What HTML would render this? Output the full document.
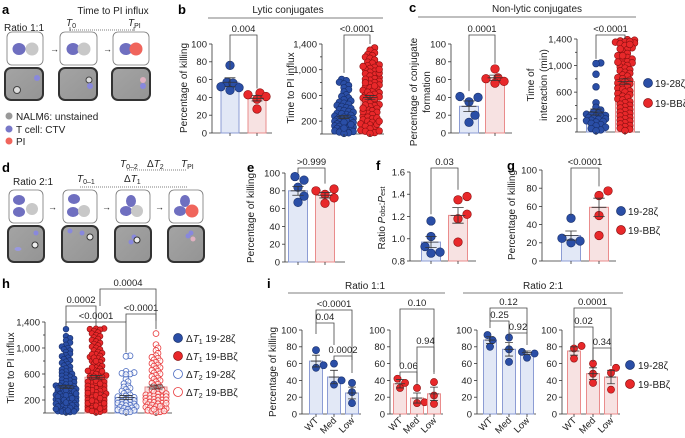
<!DOCTYPE html>
<html><head><meta charset="utf-8"><style>
html,body{margin:0;padding:0;background:#fff;}
svg{display:block;font-family:"Liberation Sans",sans-serif;}
text{fill:#222;}
.lt{font-weight:bold;font-size:13px;fill:#000;}
.ax{font-size:10px;}
.tk{font-size:9.5px;}
</style></head><body>
<svg id="fig" width="685" height="438" viewBox="0 0 685 438" xmlns="http://www.w3.org/2000/svg">
<defs>
<linearGradient id="mic" x1="0" y1="0" x2="1" y2="1"><stop offset="0" stop-color="#a4a4a4"/><stop offset="1" stop-color="#949494"/></linearGradient>
</defs>
<!-- panel a -->
<g>
<text class="lt" x="2" y="14">a</text>
<text class="ax" x="113" y="14" text-anchor="middle" font-size="10.5">Time to PI influx</text>
<text class="ax" x="4" y="31">Ratio 1:1</text>
<text x="66" y="26" font-size="10" font-style="italic">T<tspan font-size="7" dy="2" font-style="normal">0</tspan></text>
<text x="128" y="26" font-size="10" font-style="italic">T<tspan font-size="7" dy="2" font-style="normal">PI</tspan></text>
<line x1="70" y1="30" x2="134" y2="30" stroke="#555" stroke-width="0.8" stroke-dasharray="1,1"/>
<line x1="70" y1="27" x2="70" y2="31" stroke="#555" stroke-width="0.8"/>
<line x1="134" y1="27" x2="134" y2="31" stroke="#555" stroke-width="0.8"/>
<rect x="7" y="32" width="36" height="33" rx="5" fill="#fff" stroke="#777" stroke-width="0.8"/>
<ellipse cx="19" cy="49" rx="6.5" ry="6" fill="#6f6fc0"/><circle cx="32" cy="49" r="6.5" fill="#c8c8c8"/>
<text x="50" y="52" font-size="9">→</text>
<rect x="60" y="32" width="37" height="33" rx="5" fill="#fff" stroke="#777" stroke-width="0.8"/>
<ellipse cx="73" cy="49" rx="6.5" ry="6" fill="#6f6fc0"/><circle cx="84" cy="49" r="6.5" fill="#c8c8c8"/>
<text x="103" y="52" font-size="9">→</text>
<rect x="113" y="32" width="36" height="33" rx="5" fill="#fff" stroke="#777" stroke-width="0.8"/>
<ellipse cx="126" cy="49" rx="6.5" ry="6" fill="#6f6fc0"/><circle cx="136" cy="49" r="6.5" fill="#f0655c"/>
<rect x="5" y="68" width="38" height="32" rx="6" fill="url(#mic)" stroke="#333" stroke-width="2"/>
<circle cx="37" cy="78" r="3" fill="#8888dd"/><circle cx="17" cy="90" r="3.5" fill="#ddd" stroke="#444"/>
<rect x="59" y="68" width="38" height="32" rx="6" fill="url(#mic)" stroke="#333" stroke-width="2"/>
<circle cx="89" cy="80" r="3" fill="#ddd" stroke="#444"/><circle cx="90" cy="86" r="3" fill="#8888dd"/>
<rect x="112" y="68" width="38" height="32" rx="6" fill="url(#mic)" stroke="#333" stroke-width="2"/>
<circle cx="143" cy="80" r="3" fill="#e0b0c0"/><circle cx="143" cy="86" r="3" fill="#8888dd"/>
<circle cx="9" cy="116" r="3.5" fill="#999"/><text class="ax" x="16" y="120">NALM6: unstained</text>
<circle cx="9" cy="129" r="3.5" fill="#7878c8"/><text class="ax" x="16" y="133">T cell: CTV</text>
<circle cx="9" cy="141" r="3.5" fill="#f0655c"/><text class="ax" x="16" y="145">PI</text>
</g>
<!-- panel d -->
<g>
<text class="lt" x="2" y="172">d</text>
<text class="ax" x="13" y="185">Ratio 2:1</text>
<text x="120" y="167" font-size="10" font-style="italic">T<tspan font-size="7" dy="2" font-style="normal">0–2</tspan></text>
<text x="147" y="167" font-size="10">Δ<tspan font-style="italic">T</tspan><tspan font-size="7" dy="2">2</tspan></text>
<text x="181" y="167" font-size="10" font-style="italic">T<tspan font-size="7" dy="2" font-style="normal">PI</tspan></text>
<line x1="127" y1="170" x2="187" y2="170" stroke="#555" stroke-width="0.8" stroke-dasharray="1,1"/>
<text x="77" y="182" font-size="10" font-style="italic">T<tspan font-size="7" dy="2" font-style="normal">0–1</tspan></text>
<text x="124" y="182" font-size="10">Δ<tspan font-style="italic">T</tspan><tspan font-size="7" dy="2">1</tspan></text>
<line x1="80" y1="187" x2="187" y2="187" stroke="#555" stroke-width="0.8" stroke-dasharray="1,1"/>
<rect x="9" y="190" width="34" height="33" rx="5" fill="#fff" stroke="#777" stroke-width="0.8"/>
<ellipse cx="19" cy="200" rx="6" ry="5" fill="#6f6fc0"/><ellipse cx="19" cy="212" rx="6" ry="5" fill="#6f6fc0"/><circle cx="32" cy="209" r="6" fill="#c8c8c8"/>
<text x="48" y="210" font-size="9">→</text>
<rect x="63" y="190" width="34" height="33" rx="5" fill="#fff" stroke="#777" stroke-width="0.8"/>
<ellipse cx="74" cy="199" rx="6" ry="5" fill="#6f6fc0"/><ellipse cx="73" cy="212" rx="6" ry="5" fill="#6f6fc0"/><circle cx="84" cy="211" r="6" fill="#c8c8c8"/>
<text x="102" y="210" font-size="9">→</text>
<rect x="116" y="190" width="34" height="33" rx="5" fill="#fff" stroke="#777" stroke-width="0.8"/>
<ellipse cx="131" cy="201" rx="5" ry="6" fill="#6f6fc0"/><ellipse cx="126" cy="211" rx="6" ry="5" fill="#6f6fc0"/><circle cx="137" cy="211" r="6" fill="#c8c8c8"/>
<text x="155" y="210" font-size="9">→</text>
<rect x="169" y="190" width="34" height="33" rx="5" fill="#fff" stroke="#777" stroke-width="0.8"/>
<ellipse cx="185" cy="201" rx="5" ry="6" fill="#6f6fc0"/><ellipse cx="180" cy="211" rx="6" ry="5" fill="#6f6fc0"/><circle cx="192" cy="211" r="6.5" fill="#f0655c"/>
<rect x="8" y="226" width="36" height="36" rx="6" fill="url(#mic)" stroke="#333" stroke-width="2"/>
<circle cx="36" cy="233" r="2.5" fill="#8888dd"/><circle cx="35" cy="245" r="3" fill="#eee" stroke="#333"/><ellipse cx="18" cy="249" rx="3.5" ry="2" fill="#9999e0"/>
<rect x="62" y="226" width="36" height="36" rx="6" fill="url(#mic)" stroke="#333" stroke-width="2"/>
<circle cx="70" cy="231" r="2.5" fill="#8888dd"/><circle cx="82" cy="233" r="2.5" fill="#8888dd"/><circle cx="90" cy="237" r="3" fill="#eee" stroke="#333"/>
<rect x="115" y="226" width="36" height="36" rx="6" fill="url(#mic)" stroke="#333" stroke-width="2"/>
<circle cx="134" cy="237" r="2.5" fill="#8888dd"/><circle cx="137" cy="240" r="3" fill="#eee" stroke="#333"/><circle cx="131" cy="242" r="2.5" fill="#8888dd"/>
<rect x="168" y="226" width="36" height="36" rx="6" fill="url(#mic)" stroke="#333" stroke-width="2"/>
<circle cx="191" cy="233" r="2.5" fill="#8888dd"/><circle cx="193" cy="239" r="2.5" fill="#e0b0c0"/><circle cx="188" cy="236" r="2.5" fill="#8888dd"/>
</g>
<!-- headers -->
<text class="lt" x="178" y="14">b</text>
<text class="ax" x="288" y="13" text-anchor="middle" font-size="10.5">Lytic conjugates</text>
<line x1="208" y1="18" x2="383" y2="18" stroke="#555" stroke-width="0.8"/>
<text class="lt" x="409" y="12">c</text>
<text class="ax" x="537" y="12" text-anchor="middle" font-size="10.5">Non-lytic conjugates</text>
<line x1="418" y1="17" x2="636" y2="17" stroke="#555" stroke-width="0.8"/>
<text class="lt" x="247" y="172">e</text>
<text class="lt" x="376" y="170">f</text>
<text class="lt" x="507" y="170">g</text>
<text class="lt" x="2" y="288">h</text>
<text class="lt" x="267" y="288">i</text>
<text class="ax" x="365" y="289" text-anchor="middle">Ratio 1:1</text>
<line x1="288" y1="293" x2="445" y2="293" stroke="#555" stroke-width="0.8"/>
<text class="ax" x="543" y="289" text-anchor="middle">Ratio 2:1</text>
<line x1="463" y1="293" x2="623" y2="293" stroke="#555" stroke-width="0.8"/>
<!-- y titles -->
<text class="ax" transform="translate(187,88) rotate(-90)" text-anchor="middle">Percentage of killing</text>
<text class="ax" transform="translate(294,88) rotate(-90)" text-anchor="middle">Time to PI influx</text>
<text class="ax" transform="translate(417,92) rotate(-90)" text-anchor="middle">Percentage of conjugate</text>
<text class="ax" transform="translate(430,92) rotate(-90)" text-anchor="middle">formation</text>
<text class="ax" transform="translate(534,85) rotate(-90)" text-anchor="middle">Time of</text>
<text class="ax" transform="translate(547,85) rotate(-90)" text-anchor="middle">interaction (min)</text>
<text class="ax" transform="translate(254,218) rotate(-90)" text-anchor="middle">Percentage of killing</text>
<text class="ax" transform="translate(385,218) rotate(-90)" text-anchor="middle">Ratio <tspan font-style="italic">P</tspan><tspan font-size="7">obs</tspan>:<tspan font-style="italic">P</tspan><tspan font-size="7">est</tspan></text>
<text class="ax" transform="translate(515,215) rotate(-90)" text-anchor="middle">Percentage of killing</text>
<text class="ax" transform="translate(14,368) rotate(-90)" text-anchor="middle">Time to PI influx</text>
<text class="ax" transform="translate(276,372) rotate(-90)" text-anchor="middle">Percentage of killing</text>
<!-- legends -->
<g>
<circle cx="648" cy="83" r="4.5" fill="#2a4ea6" stroke="#182f6a" stroke-width="0.7"/><text class="ax" x="655" y="87">19-28ζ</text>
<circle cx="648" cy="103" r="4.5" fill="#e8282a" stroke="#8a1010" stroke-width="0.7"/><text class="ax" x="655" y="107">19-BBζ</text>
</g>
<g>
<circle cx="621" cy="211" r="4.5" fill="#2a4ea6" stroke="#182f6a" stroke-width="0.7"/><text class="ax" x="628" y="215">19-28ζ</text>
<circle cx="621" cy="230" r="4.5" fill="#e8282a" stroke="#8a1010" stroke-width="0.7"/><text class="ax" x="628" y="234">19-BBζ</text>
</g>
<g>
<circle cx="178" cy="338" r="4.5" fill="#2a4ea6" stroke="#182f6a" stroke-width="0.7"/><text class="ax" x="186" y="342">Δ<tspan font-style="italic">T</tspan><tspan font-size="7" dy="2">1</tspan><tspan dy="-2"> 19-28ζ</tspan></text>
<circle cx="178" cy="356" r="4.5" fill="#e8282a" stroke="#8a1010" stroke-width="0.7"/><text class="ax" x="186" y="360">Δ<tspan font-style="italic">T</tspan><tspan font-size="7" dy="2">1</tspan><tspan dy="-2"> 19-BBζ</tspan></text>
<circle cx="178" cy="374" r="4.5" fill="none" stroke="#4a6ac0" stroke-width="0.8"/><text class="ax" x="186" y="378">Δ<tspan font-style="italic">T</tspan><tspan font-size="7" dy="2">2</tspan><tspan dy="-2"> 19-28ζ</tspan></text>
<circle cx="178" cy="392" r="4.5" fill="none" stroke="#e8383a" stroke-width="0.8"/><text class="ax" x="186" y="396">Δ<tspan font-style="italic">T</tspan><tspan font-size="7" dy="2">2</tspan><tspan dy="-2"> 19-BBζ</tspan></text>
</g>
<g>
<circle cx="630" cy="365" r="4.5" fill="#2a4ea6" stroke="#182f6a" stroke-width="0.7"/><text class="ax" x="638" y="369">19-28ζ</text>
<circle cx="630" cy="384" r="4.5" fill="#e8282a" stroke="#8a1010" stroke-width="0.7"/><text class="ax" x="638" y="388">19-BBζ</text>
</g>
</svg>
<script>
// ---------- data ----------
const pctTicks=[0,20,40,60,80,100];
const pctTickLabels=['0','20','40','60','80','100'];
const timeTicks=[0,200,400,600,800,1000,1200,1400];
const timeTickLabels=['','200','','600','','1,000','','1,400'];
const ratioTicks=[0.8,1.0,1.2,1.4,1.6];
const ratioTickLabels=['0.8','1.0','1.2','1.4','1.6'];
const iCats=['WT','Med','Low'];

const bKillMean=[57,39];
const bKillSem=[5,3];
const bKillBlue=[76,57,56,52,51,48];
const bKillRed=[45,43,41,38,27];

const bTimeMean=[265,570];
const bTimeSem=[25,30];
const bTimeBlue=[850,830,805,780,755,720,690,655,610,585,560,535,515,495,480,462,445,430,412,398,380,366,352,338,322,305,292,278,263,250,242,228,221,208,198,186,177,168,158,149,138,127,118,108,99,88,79,68,58,48,38,29,18,8,315,262,212,182,148,92];
const bTimeRed=[1340,1305,1262,1238,1221,1196,1178,1152,1118,1102,1076,1063,1038,1021,1002,978,962,937,918,903,877,862,838,821,802,776,763,741,718,702,679,663,642,618,603,578,562,538,521,497,482,458,442,423,398,381,362,338,322,301,278,262,238,221,198,182,158,141,118,102,81,58,42,21,9,1052,948,853,748,652,551,452,348,251,152,48,1005,798,602,402,198];

const cConjMean=[30,62];
const cConjSem=[6,3];
const cConjBlue=[40,41,35,20,12];
const cConjRed=[72,62,58,56,61];

const cTimeMean=[300,760];
const cTimeSem=[45,40];
const cTimeBlue=[1040,1030,870,680,440,372,330,302,281,268,259,248,239,231,219,208,198,191,178,169,158,149,131,112,92,71,52,31,18];
const cTimeRed=[1390,1382,1371,1358,1352,1339,1328,1302,1268,1241,1208,1183,1149,1122,1098,1082,1058,1041,1019,1002,978,961,938,921,899,882,858,841,818,802,779,761,738,722,698,681,658,642,618,601,578,562,538,521,498,482,458,441,418,402,378,361,338,322,298,281,258,241,218,201,178,162,138,121,98,82,58,41,22,1362,1318,1251,1148,1052];

const eKillMean=[80,75];
const eKillSem=[5,3];
const eKillBlue=[96,92,84,74,67];
const eKillRed=[82,80,76,72,66];

const fRatioMean=[0.97,1.21];
const fRatioSem=[0.05,0.07];
const fRatioBlue=[1.16,1.02,0.93,0.88,0.87];
const fRatioRed=[1.38,1.35,1.22,1.18,0.97];

const gKillMean=[28,59];
const gKillSem=[5,10];
const gKillBlue=[47,25,22,20];
const gKillRed=[77,72,50,28];

const hMean=[400,550,240,400];
const hSem=[25,28,30,30];
const hT1Blue=[1290,1182,1151,1118,1082,1049,1021,998,979,962,938,911,889,872,851,828,812,789,771,752,729,712,688,671,652,638,622,601,588,572,559,541,528,512,498,489,472,461,449,438,421,409,398,391,379,368,355,341,329,321,309,298,291,279,268,259,251,238,229,221,208,199,188,181,169,158,151,139,128,122,109,98,91,79,68,61,49,41,29,21,15,9,422,381,352,331,298,271,252,228,201,179,161,142,119,101,79,62,38,24];
const hT1Red=[1300,1296,1291,1282,1261,1238,1221,1198,1181,1162,1139,1122,1101,1078,1062,1039,1021,1002,979,962,938,921,902,878,861,842,819,801,782,758,741,722,698,681,662,639,621,602,578,561,542,519,502,478,461,442,418,401,382,358,341,322,298,281,262,238,221,202,178,161,142,118,102,78,61,42,19,9,902,851,798,702,649,601,552,498,451,402,352,298,252,198,152,101,52,31,641,559,482,418,362,309,271,229,191,149,112,69];
const hT2Blue=[880,872,640,622,600,611,590,521,482,452,418,401,382,361,338,322,301,279,262,251,241,229,222,208,198,191,178,169,158,151,138,129,118,111,99,88,79,71,58,49,41,29,18,12];
const hT2Red=[1222,1052,1001,962,918,882,858,842,818,801,779,762,738,722,698,681,658,642,618,601,578,562,538,521,499,481,458,442,419,401,378,362,338,321,298,291,279,268,261,249,241,229,221,209,198,191,179,168,162,149,141,128,121,109,98,91,78,69,61,49,41,28,19,9,352,298,252,201,149,102,58,31];

const i1Mean=[63,44,25];const i1Sem=[7,8,7];
const i1Dots=[[76,55,58],[60,35,40],[37,26,13]];
const i2Mean=[36,19,24];const i2Sem=[5,6,8];
const i2Dots=[[42,37,31],[31,13,14],[38,22,12]];
const i3Mean=[88,77,73];const i3Sem=[4,8,2];
const i3Dots=[[94,88,80],[91,77,62],[74,72,67]];
const i4Mean=[75,48,44];const i4Sem=[5,7,8];
const i4Dots=[[81,78,66],[60,48,37],[55,49,29]];

// ---------- drawing ----------
const NS='http://www.w3.org/2000/svg';
const fig=document.getElementById('fig');
const BLUE={fill:'#2a4ea6',stroke:'#182f6a',bar:'#e2e8f6',barStroke:'#8c9cd4',open:'#4a6ac0'};
const RED={fill:'#e8282a',stroke:'#8a1010',bar:'#f7e2e2',barStroke:'#ea8c8c',open:'#e8383a'};
function mk(tag,parent){const e=document.createElementNS(NS,tag);(parent||fig).appendChild(e);return e;}
function set(e,o){for(const k in o)e.setAttribute(k,o[k]);return e;}

function makeAxis(g,ax,yb,yt,mn,mx,ticks,labels,xEnd){
  const y=v=>yb-(v-mn)/(mx-mn)*(yb-yt);
  const l=set(mk('line',g),{x1:ax,y1:yt,x2:ax,y2:yb,stroke:'#333','stroke-width':0.8});
  
  
  const b=set(mk('line',g),{x1:ax,y1:yb,x2:xEnd,y2:yb,stroke:'#333','stroke-width':0.8});
  
  
  ticks.forEach((t,i)=>{
    const lab=labels[i];
    const tl=set(mk('line',g),{x1:ax-(lab?3:2),y1:y(t),x2:ax,y2:y(t),stroke:'#333','stroke-width':0.8});
    
    
    if(lab){const tx=set(mk('text',g),{x:ax-5,y:y(t)+3.4,'text-anchor':'end',class:'tk'});tx.textContent=lab;
      
      }
  });
  return y;
}
function swarm(vals,y,cx,r,half){
  const placed=[];const out=[];
  const order=vals.map((v,i)=>i).sort((a,b)=>vals[a]-vals[b]);
  const minD=vals.length<10?r*1.9:r*1.05;
  order.forEach(i=>{
    const py=y(vals[i]);let best=null,bestScore=1e9;
    const step=r*0.7;
    for(let k=0;k<60;k++){
      const off=(k%2?1:-1)*Math.ceil(k/2)*step;
      if(Math.abs(off)>half)continue;
      const x=cx+off;
      let md=1e9;
      placed.forEach(p=>{const d=Math.hypot(p[0]-x,p[1]-py);if(d<md)md=d;});
      if(md>=minD){best=x;break;}
      const score=-md;
      if(score<bestScore){bestScore=score;best=x;}
    }
    placed.push([best,py]);out[i]=[best,py];
  });
  return out;
}
function drawGroup(g,y,cx,bw,mean,sem,vals,col,r,open,base){
  const bar=set(mk('rect',g),{x:cx-bw/2,y:y(mean),width:bw,height:base-y(mean),fill:col.bar,stroke:col.barStroke,'stroke-width':1});
  
  
  const pts=swarm(vals,y,cx,r,bw/2+r*0.3);
  pts.forEach(p=>{
    const c=set(mk('circle',g),{cx:p[0],cy:p[1],r:r,fill:open?'#fff':col.fill,'fill-opacity':open?0.6:1,stroke:open?col.open:col.stroke,'stroke-width':open?0.8:0.6});
    
    
  });
  const w=bw*0.3;
  const e1=set(mk('path',g),{d:`M${cx},${y(mean-sem)}V${y(mean+sem)}M${cx-w},${y(mean+sem)}H${cx+w}M${cx-w},${y(mean-sem)}H${cx+w}M${cx-w*1.3},${y(mean)}H${cx+w*1.3}`,stroke:'#333','stroke-width':0.8,fill:'none'});
  
  
}
function xTick(g,cx,yb){
  const t=set(mk('line',g),{x1:cx,y1:yb,x2:cx,y2:yb+3,stroke:'#333','stroke-width':0.8});
  
  
}
function bracket(g,x1,x2,yTop,yL,yR,label){
  const p=set(mk('path',g),{d:`M${x1},${yL}V${yTop}H${x2}V${yR}`,stroke:'#444','stroke-width':0.8,fill:'none'});
  
  
  const t=set(mk('text',g),{x:(x1+x2)/2,y:yTop-3,'text-anchor':'middle',class:'tk'});
  t.textContent=label;
  
  
}
function panel(name,ax,yb,yt,mn,mx,ticks,labels,xEnd,centers,bw,means,sems,series,cols,r,opens){
  const g=mk('g');
  
  
  const y=makeAxis(g,ax,yb,yt,mn,mx,ticks,labels,xEnd);
  centers.forEach((cx,i)=>{drawGroup(g,y,cx,bw,means[i],sems[i],series[i],cols[i],r,opens?opens[i]:false,yb);xTick(g,cx,yb);});
  return {g,y};
}

let p;
p=panel('panel-b-killing',212,133,44,0,100,pctTicks,pctTickLabels,272,[230,257],18,bKillMean,bKillSem,[bKillBlue,bKillRed],[BLUE,RED],4.3);
bracket(p.g,230,257,35,p.y(72),p.y(50),'0.004');
p=panel('panel-b-time',322,134,44,0,1400,timeTicks,timeTickLabels,384,[344,370],18,bTimeMean,bTimeSem,[bTimeBlue,bTimeRed],[BLUE,RED],3.3);
bracket(p.g,344,370,35,p.y(950),p.y(1400),'<0.0001');
p=panel('panel-c-conjugate',451,133,44,0,100,pctTicks,pctTickLabels,512,[469,495],19,cConjMean,cConjSem,[cConjBlue,cConjRed],[BLUE,RED],4.3);
bracket(p.g,469,495,35,p.y(47),p.y(78),'0.0001');
p=panel('panel-c-interaction',577,132,39,0,1400,timeTicks,timeTickLabels,640,[596,625],19,cTimeMean,cTimeSem,[cTimeBlue,cTimeRed],[BLUE,RED],3.4);
bracket(p.g,596,625,35,p.y(1100),p.y(1400),'<0.0001');
p=panel('panel-e',285,262,173,0,100,pctTicks,pctTickLabels,345,[298,325],19,eKillMean,eKillSem,[eKillBlue,eKillRed],[BLUE,RED],4.3);
bracket(p.g,298,325,168,p.y(100),p.y(88),'>0.999');
p=panel('panel-f',410,261,172,0.8,1.6,ratioTicks,ratioTickLabels,476,[431,458],19,fRatioMean,fRatioSem,[fRatioBlue,fRatioRed],[BLUE,RED],4.3);
bracket(p.g,431,458,168,p.y(1.22),p.y(1.44),'0.03');
p=panel('panel-g',542,261,170,0,100,pctTicks,pctTickLabels,616,[571,599],19,gKillMean,gKillSem,[gKillBlue,gKillRed],[BLUE,RED],4.3);
bracket(p.g,571,599,168,p.y(50),p.y(82),'<0.0001');
p=panel('panel-h',45,413,322,0,1400,timeTicks,timeTickLabels,172,[66,96,126,156],22,hMean,hSem,[hT1Blue,hT1Red,hT2Blue,hT2Red],[BLUE,RED,BLUE,RED],2.9,[false,false,true,true]);
bracket(p.g,66,96,306,p.y(1340),p.y(1340),'0.0002');
bracket(p.g,66,126,322,p.y(1340),p.y(930),'<0.0001');
bracket(p.g,126,156,314,p.y(1400),p.y(1290),'<0.0001');
bracket(p.g,100,156,289,306,p.y(1420),'0.0004');

function iPanel(name,ax,centers,means,sems,dots,col,br){
  const g=mk('g');
  
  
  const y=makeAxis(g,ax,414,330,0,100,pctTicks,pctTickLabels,centers[2]+9);
  centers.forEach((cx,i)=>{
    drawGroup(g,y,cx,13,means[i],sems[i],dots[i],col,3.6,false,414);
    xTick(g,cx,414);
    const t=set(mk('text',g),{transform:`translate(${cx+3},${421}) rotate(-45)`,'text-anchor':'end',class:'tk'});
    t.textContent=iCats[i];
    
    
  });
  br.forEach(b=>bracket(g,centers[b[0]],centers[b[1]],b[2],b[3],b[4],b[5]));
}
iPanel('panel-i-ratio11-2828',302,[316,334,352],i1Mean,i1Sem,i1Dots,BLUE,[[0,2,310,323,360,'<0.0001'],[0,1,323,334,345,'0.04'],[1,2,356,360,373,'0.0002']]);
iPanel('panel-i-ratio11-bb',390,[400,417,434],i2Mean,i2Sem,i2Dots,RED,[[0,2,309,366,372,'0.10'],[0,1,372,376,385,'0.06'],[1,2,347,382,374,'0.94']]);
iPanel('panel-i-ratio21-2828',477,[490,509,527],i3Mean,i3Sem,i3Dots,BLUE,[[0,2,308,321,333,'0.12'],[0,1,321,328,333,'0.25'],[1,2,333,340,345,'0.92']]);
iPanel('panel-i-ratio21-bb',562,[574,593,611],i4Mean,i4Sem,i4Dots,RED,[[0,2,308,327,360,'0.0001'],[0,1,327,345,360,'0.02'],[1,2,348,362,366,'0.34']]);
</script>
</body></html>
